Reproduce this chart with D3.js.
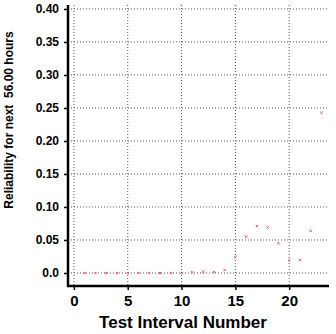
<!DOCTYPE html>
<html>
<head>
<meta charset="utf-8">
<script src="https://cdn.jsdelivr.net/npm/d3@7"></script>
<style>
  body { margin: 0; background: #fff; }
  svg text { font-family: "Liberation Sans", Arial, sans-serif; font-weight: bold; fill: #000; }
</style>
</head>
<body>
<svg width="336" height="334"></svg>
<script>
let intervals = [1, 2, 3, 4, 5, 6, 7, 8, 9, 10, 11, 12, 13, 14, 15, 16, 17, 18, 19, 20, 21, 22, 23];
let reliability = [0, 0, 0, 0, 0, 0, 0, 0, 0, 0, 0.001, 0.002, 0.0015, 0.0045, 0.024, 0.055, 0.071, 0.069, 0.045, 0.019, 0.02, 0.064, 0.243];
let xTicks = [0, 5, 10, 15, 20];
let yTicks = [0.0, 0.05, 0.10, 0.15, 0.20, 0.25, 0.30, 0.35, 0.40];
let yTickLabels = ['0.0', '0.05', '0.10', '0.15', '0.20', '0.25', '0.30', '0.35', '0.40'];

let svg = d3.select('svg');
let plotLeft = 68, plotRight = 329, plotTop = 5, plotBottom = 286;

let xScale = d3.scaleLinear().domain([-0.55, 23.7]).range([plotLeft, plotRight]);
let yScale = d3.scaleLinear().domain([-0.0197, 0.406]).range([plotBottom, plotTop]);

// grid
svg.append('g')
    .selectAll('line')
    .data(yTicks)
    .enter()
    .append('line')
    .attr('x1', plotLeft).attr('x2', plotRight)
    .attr('y1', d => yScale(d)).attr('y2', d => yScale(d))
    .attr('stroke', '#555')
    .attr('stroke-width', 1)
    .attr('stroke-dasharray', '1,2');

svg.append('g')
    .selectAll('line')
    .data(xTicks)
    .enter()
    .append('line')
    .attr('x1', d => xScale(d)).attr('x2', d => xScale(d))
    .attr('y1', plotTop).attr('y2', plotBottom)
    .attr('stroke', '#555')
    .attr('stroke-width', 1)
    .attr('stroke-dasharray', '1,2');

// axes
let xAxis = d3.axisBottom(xScale).tickValues(xTicks).tickFormat(d3.format('d')).tickSize(4).tickPadding(5);
let yAxis = d3.axisLeft(yScale).tickValues(yTicks).tickFormat((d, i) => yTickLabels[i]).tickSize(4).tickPadding(5);

let gx = svg.append('g')
    .attr('transform', 'translate(0,' + plotBottom + ')')
    .call(xAxis);
gx.select('.domain').remove();
gx.selectAll('text').style('font-size', '15px').style('font-family', '"Liberation Sans", Arial, sans-serif').style('font-weight', 'bold');
gx.selectAll('line').attr('stroke', '#000').attr('stroke-width', 1.5);

let gy = svg.append('g')
    .attr('transform', 'translate(' + plotLeft + ',0)')
    .call(yAxis);
gy.select('.domain').remove();
gy.selectAll('text').style('font-size', '12px').style('font-family', '"Liberation Sans", Arial, sans-serif').style('font-weight', 'bold');
gy.selectAll('line').attr('stroke', '#000').attr('stroke-width', 1.5);

svg.append('line')
    .attr('x1', plotLeft).attr('x2', plotLeft)
    .attr('y1', plotTop).attr('y2', plotBottom + 1)
    .attr('stroke', '#000').attr('stroke-width', 2.5);
svg.append('line')
    .attr('x1', plotLeft - 1).attr('x2', plotRight)
    .attr('y1', plotBottom).attr('y2', plotBottom)
    .attr('stroke', '#000').attr('stroke-width', 2.5);

// points
svg.append('g')
    .selectAll('path')
    .data(intervals)
    .enter()
    .append('path')
    .attr('d', (d, i) => {
        let cx = xScale(d), cy = yScale(reliability[i]);
        return 'M' + (cx - 1.2) + ',' + (cy - 1.2) + 'L' + (cx + 1.2) + ',' + (cy + 1.2) +
               'M' + (cx + 1.2) + ',' + (cy - 1.2) + 'L' + (cx - 1.2) + ',' + (cy + 1.2);
    })
    .attr('stroke', '#e2607a')
    .attr('stroke-width', 1)
    .attr('fill', 'none');

// labels
svg.append('text')
    .attr('x', 183)
    .attr('y', 328)
    .attr('text-anchor', 'middle')
    .style('font-size', '17px')
    .text('Test Interval Number');

svg.append('text')
    .attr('transform', 'translate(13,120) rotate(-90)')
    .attr('text-anchor', 'middle')
    .style('font-size', '12px')
    .style('white-space', 'pre')
    .attr('xml:space', 'preserve')
    .text('Reliability for next  56.00 hours');
</script>
</body>
</html>
